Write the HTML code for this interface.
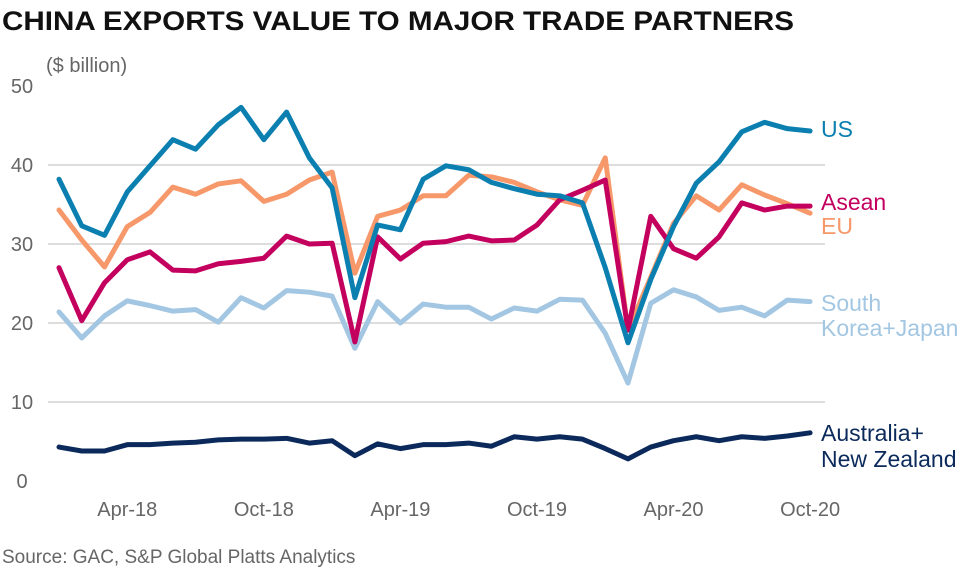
<!DOCTYPE html>
<html><head><meta charset="utf-8"><style>
body{margin:0;background:#fff;width:980px;height:572px;overflow:hidden;font-family:"Liberation Sans",sans-serif}
</style></head><body>
<svg width="980" height="572" id="svg" font-family="Liberation Sans, sans-serif">
<text x="2" y="30" font-size="27" font-weight="bold" fill="#111" textLength="792" lengthAdjust="spacingAndGlyphs">CHINA EXPORTS VALUE TO MAJOR TRADE PARTNERS</text>
<text x="46" y="72" font-size="20" fill="#666">($ billion)</text>
<text x="2" y="563" font-size="19" fill="#666">Source: GAC, S&amp;P Global Platts Analytics</text>
<g id="grid"></g><g id="ticks"></g><g id="lines"></g><g id="labels"></g>
</svg>
<script>
const months = 34;
const xTickLabels = ["Apr-18","Oct-18","Apr-19","Oct-19","Apr-20","Oct-20"];
const xTickIdx = [3,9,15,21,27,33];
const yTicks = [0,10,20,30,40,50];
const us = [38.2,32.3,31.1,36.6,39.9,43.2,42.0,45.1,47.3,43.2,46.7,40.9,37.1,23.2,32.4,31.8,38.2,39.9,39.4,37.8,37.0,36.3,36.1,35.2,27.0,17.5,25.5,32.2,37.7,40.4,44.2,45.4,44.6,44.3];
const eu = [34.3,30.5,27.1,32.2,34.0,37.2,36.3,37.6,38.0,35.4,36.3,38.1,39.1,26.3,33.5,34.3,36.1,36.1,38.7,38.5,37.8,36.6,35.6,34.9,40.9,19.1,25.8,32.6,36.1,34.3,37.5,36.2,35.1,33.9];
const asean = [27.0,20.3,25.1,28.0,29.0,26.7,26.6,27.5,27.8,28.2,31.0,30.0,30.1,17.6,30.9,28.1,30.1,30.3,31.0,30.4,30.5,32.4,35.6,36.8,38.1,19.1,33.5,29.4,28.2,30.9,35.2,34.3,34.8,34.8];
const skj = [21.4,18.1,20.9,22.8,22.2,21.5,21.7,20.1,23.2,21.9,24.1,23.9,23.4,16.8,22.7,20.0,22.4,22.0,22.0,20.5,21.9,21.5,23.0,22.9,18.7,12.4,22.5,24.2,23.3,21.6,22.0,20.9,22.9,22.7];
const ausnz = [4.3,3.8,3.8,4.6,4.6,4.8,4.9,5.2,5.3,5.3,5.4,4.8,5.1,3.2,4.7,4.1,4.6,4.6,4.8,4.4,5.6,5.3,5.6,5.3,4.1,2.8,4.3,5.1,5.6,5.1,5.6,5.4,5.7,6.1];
const NS="http://www.w3.org/2000/svg";
const X=i=>59+i*22.76, Y=v=>481-v*7.9;
function mk(t,a,p){const e=document.createElementNS(NS,t);for(const k in a)e.setAttribute(k,a[k]);p.appendChild(e);return e;}
const grid=document.getElementById('grid'),ticks=document.getElementById('ticks');
yTicks.forEach(v=>{
 if(v>0&&v<50){const l=mk('line',{x1:48,x2:825,y1:Y(v),y2:Y(v),stroke:'#ddd','stroke-width':2},grid);
 
 }
 const t=mk('text',{x:22,y:Y(v)+7,'font-size':20,fill:'#666','text-anchor':'middle'},ticks);t.textContent=v;
 
 
});
xTickLabels.forEach((s,k)=>{const t=mk('text',{x:X(xTickIdx[k]),y:516,'font-size':20,fill:'#666','text-anchor':'middle'},ticks);t.textContent=s;
 
 });
const series=[["ausnz",ausnz,"#0b2a5b"],["skj",skj,"#a3c7e2"],["eu",eu,"#f6986a"],["asean",asean,"#c4005f"],["us",us,"#0a7fb0"]];
const lg=document.getElementById('lines');
series.forEach(([n,d,c])=>{const p=mk('polyline',{points:d.map((v,i)=>X(i)+','+Y(v)).join(' '),fill:'none',stroke:c,'stroke-width':5,'stroke-linejoin':'round','stroke-linecap':'round'},lg);
 
 });
const labs=[["US",137,"#0a7fb0"],["Asean",210,"#c4005f"],["EU",234,"#f6986a"],["South",311,"#a3c7e2"],["Korea+Japan",336,"#a3c7e2"],["Australia+",441,"#0b2a5b"],["New Zealand",467,"#0b2a5b"]];
const lb=document.getElementById('labels');
labs.forEach(([s,y,c])=>{const t=mk('text',{x:821,y:y,'font-size':23,fill:c},lb);t.textContent=s;
 
 });
</script>
</body></html>
